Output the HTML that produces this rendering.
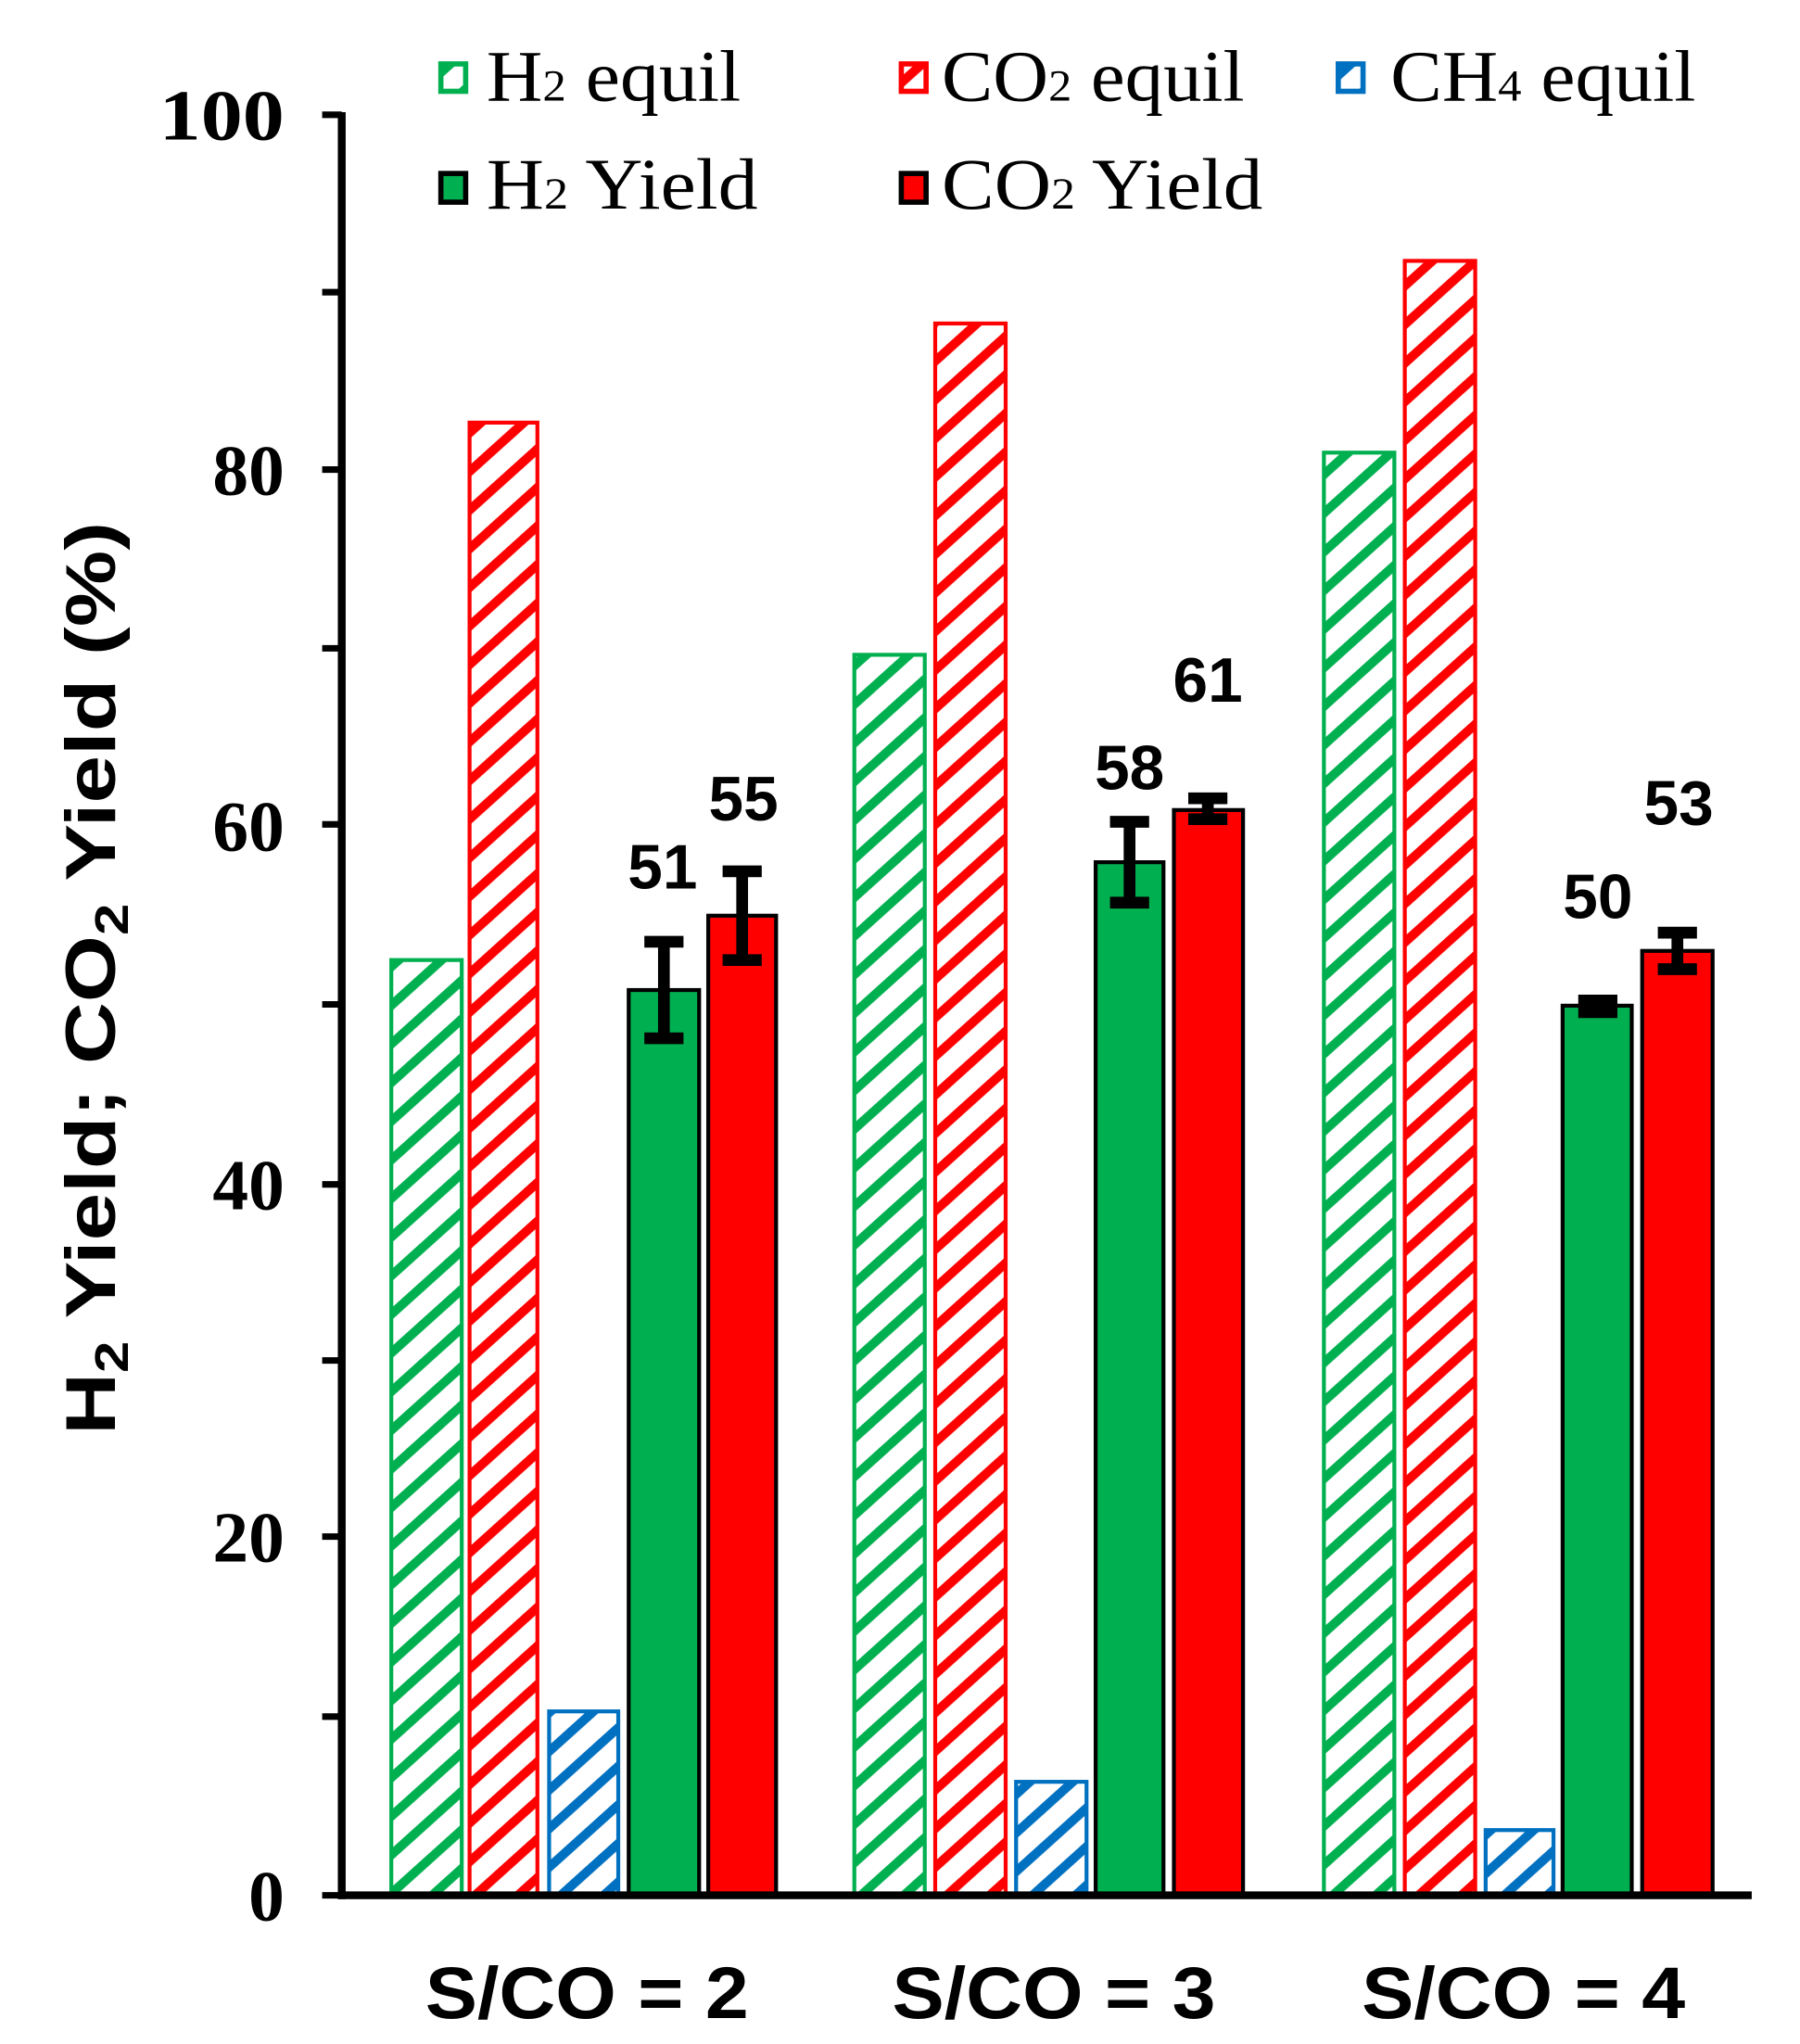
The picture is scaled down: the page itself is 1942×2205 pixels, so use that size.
<!DOCTYPE html>
<html><head><meta charset="utf-8"><style>html,body{margin:0;padding:0;background:#fff}svg{display:block}</style></head>
<body>
<svg width="1942" height="2205" viewBox="0 0 1380 1567" preserveAspectRatio="none" xmlns="http://www.w3.org/2000/svg">
<defs>
<pattern id="hg" patternUnits="userSpaceOnUse" width="22" height="22" patternTransform="rotate(-42)"><rect width="22" height="22" fill="#fff"/><rect y="0" width="22" height="7" fill="#00b050"/></pattern>
<pattern id="hr" patternUnits="userSpaceOnUse" width="22" height="22" patternTransform="rotate(-42)"><rect width="22" height="22" fill="#fff"/><rect y="0" width="22" height="7" fill="#ff0000"/></pattern>
<pattern id="hb" patternUnits="userSpaceOnUse" width="22" height="22" patternTransform="rotate(-42)"><rect width="22" height="22" fill="#fff"/><rect y="0" width="22" height="7" fill="#0070c0"/></pattern>
</defs>
<rect width="1380" height="1567" fill="#fff"/>

<!-- legend -->
<g font-family="'Liberation Serif',serif" font-size="56" fill="#000">
<rect x="338" y="49" width="19" height="21" fill="url(#hg)" stroke="#00b050" stroke-width="4"/>
<text x="373" y="77" textLength="195" lengthAdjust="spacingAndGlyphs">H<tspan font-size="34">2</tspan> equil</text>
<rect x="691" y="49" width="19" height="21" fill="url(#hr)" stroke="#ff0000" stroke-width="4"/>
<text x="722" y="77" textLength="232" lengthAdjust="spacingAndGlyphs">CO<tspan font-size="34">2</tspan> equil</text>
<rect x="1026" y="49" width="19" height="21" fill="url(#hb)" stroke="#0070c0" stroke-width="4"/>
<text x="1066" y="77" textLength="234" lengthAdjust="spacingAndGlyphs">CH<tspan font-size="34">4</tspan> equil</text>
<rect x="338" y="133" width="19" height="22" fill="#00b050" stroke="#000" stroke-width="4"/>
<text x="373" y="160" textLength="208" lengthAdjust="spacingAndGlyphs">H<tspan font-size="34">2</tspan> Yield</text>
<rect x="691" y="133" width="19" height="22" fill="#ff0000" stroke="#000" stroke-width="4"/>
<text x="722" y="160" textLength="246" lengthAdjust="spacingAndGlyphs">CO<tspan font-size="34">2</tspan> Yield</text>
</g>

<!-- y tick labels -->
<g font-family="'Liberation Serif',serif" font-weight="bold" font-size="55" text-anchor="end" fill="#000">
<text x="218" y="107" textLength="96" lengthAdjust="spacingAndGlyphs">100</text>
<text x="218" y="379">80</text>
<text x="218" y="652">60</text>
<text x="218" y="927">40</text>
<text x="218" y="1197">20</text>
<text x="218" y="1472">0</text>
</g>

<!-- y label -->
<text transform="translate(88,750) rotate(-90)" text-anchor="middle" font-family="'Liberation Sans',sans-serif" font-weight="bold" font-size="54" textLength="700" lengthAdjust="spacingAndGlyphs">H<tspan font-size="36" dy="10">2</tspan><tspan dy="-10"> Yield; CO</tspan><tspan font-size="36" dy="10">2</tspan><tspan dy="-10"> Yield (%)</tspan></text>

<!-- bars: equil -->
<g stroke-width="3">
<rect x="300" y="736" width="54" height="717" fill="url(#hg)" stroke="#00b050"/>
<rect x="360" y="324" width="52" height="1129" fill="url(#hr)" stroke="#ff0000"/>
<rect x="421" y="1312" width="53" height="141" fill="url(#hb)" stroke="#0070c0"/>
<rect x="655" y="502" width="54" height="951" fill="url(#hg)" stroke="#00b050"/>
<rect x="717" y="248" width="54" height="1205" fill="url(#hr)" stroke="#ff0000"/>
<rect x="779" y="1366" width="54" height="87" fill="url(#hb)" stroke="#0070c0"/>
<rect x="1015" y="347" width="54" height="1106" fill="url(#hg)" stroke="#00b050"/>
<rect x="1077" y="200" width="54" height="1253" fill="url(#hr)" stroke="#ff0000"/>
<rect x="1139" y="1403" width="52" height="50" fill="url(#hb)" stroke="#0070c0"/>
</g>
<!-- bars: yield -->
<g stroke="#000" stroke-width="3">
<rect x="482" y="759" width="54" height="694" fill="#00b050"/>
<rect x="543" y="702" width="52" height="751" fill="#ff0000"/>
<rect x="840" y="661" width="52" height="792" fill="#00b050"/>
<rect x="900" y="621" width="53" height="832" fill="#ff0000"/>
<rect x="1198" y="771" width="53" height="682" fill="#00b050"/>
<rect x="1259" y="729" width="54" height="724" fill="#ff0000"/>
</g>
<!-- error bars -->
<g stroke="#000" stroke-width="9" fill="none">
<path d="M509 722V796M494 722H524M494 796H524"/>
<path d="M569 668V736M554 668H584M554 736H584"/>
<path d="M866 630V692M851 630H881M851 692H881"/>
<path d="M926 612V628M911 612H941M911 628H941"/>
<path d="M1224 767V776M1210 767H1240M1210 776H1240"/>
<path d="M1286 715V743M1271 715H1301M1271 743H1301"/>
</g>

<!-- value labels -->
<g font-family="'Liberation Sans',sans-serif" font-weight="bold" font-size="48" text-anchor="middle" fill="#000">
<text x="508" y="681">51</text>
<text x="570" y="629">55</text>
<text x="866" y="605">58</text>
<text x="926" y="538">61</text>
<text x="1225" y="704">50</text>
<text x="1287" y="632">53</text>
</g>

<!-- axes -->
<g stroke="#000" fill="none">
<path d="M262 86V1456" stroke-width="6"/>
<path d="M259 1453H1343" stroke-width="6"/>
<path d="M247 88H262M247 224H262M247 360H262M247 497H262M247 632H262M247 770H262M247 908H262M247 1043H262M247 1178H262M247 1316H262M247 1453H262" stroke-width="5"/>
</g>

<!-- x labels -->
<g font-family="'Liberation Sans',sans-serif" font-weight="bold" font-size="56" text-anchor="middle" fill="#000">
<text x="450" y="1547" textLength="248" lengthAdjust="spacingAndGlyphs">S/CO = 2</text>
<text x="808" y="1547" textLength="248" lengthAdjust="spacingAndGlyphs">S/CO = 3</text>
<text x="1168" y="1547" textLength="248" lengthAdjust="spacingAndGlyphs">S/CO = 4</text>
</g>
</svg>
</body></html>
